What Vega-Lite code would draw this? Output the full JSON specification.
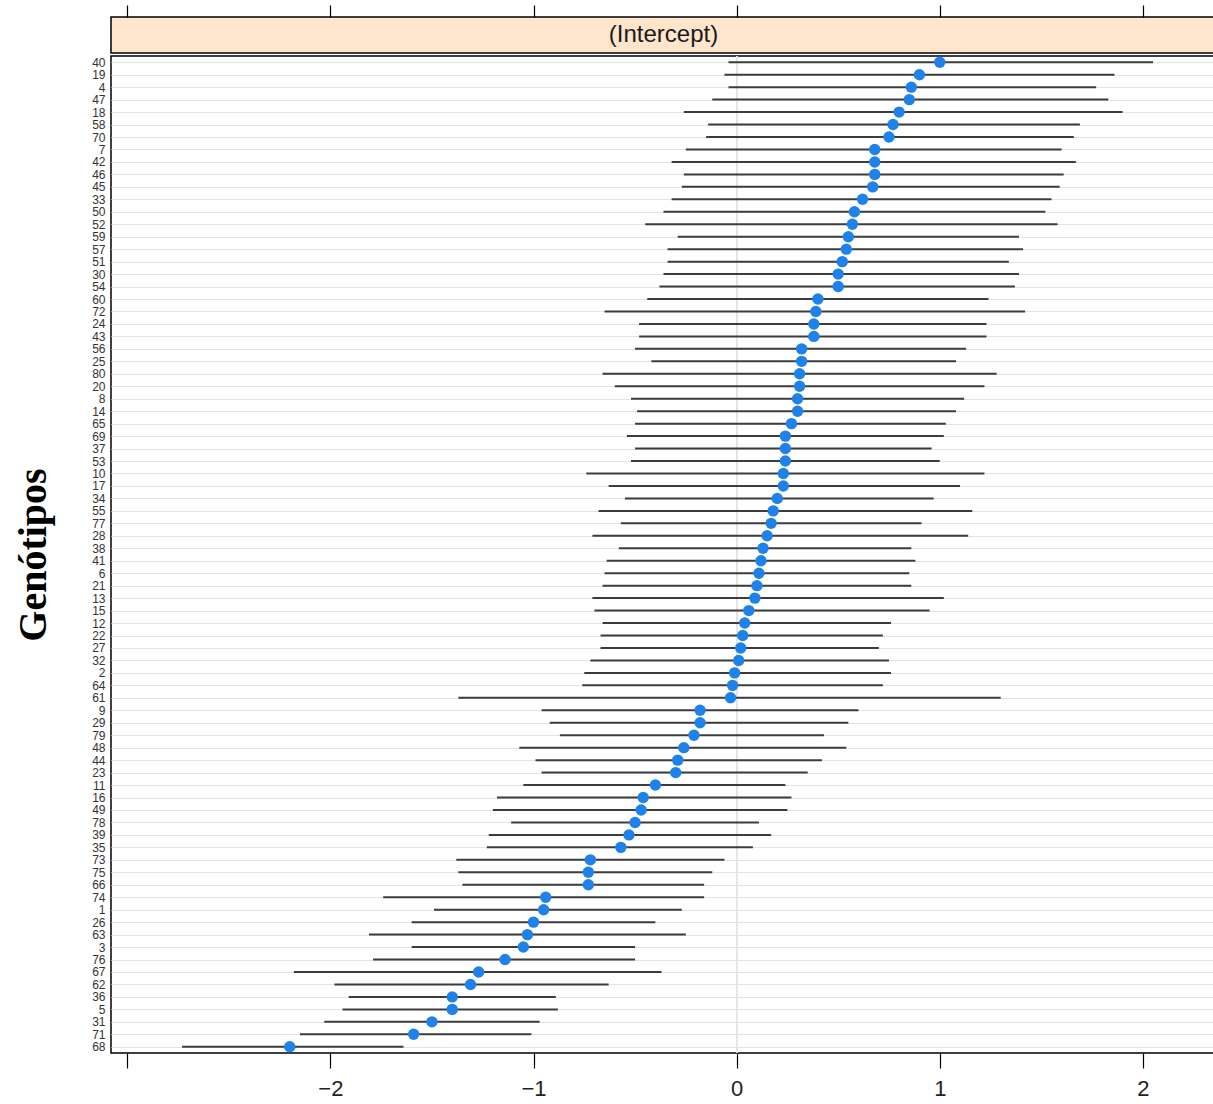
{
  "$schema": "https://vega.github.io/schema/vega-lite/v6.json",
  "background": "white",
  "padding": {"top": 3, "left": 12, "right": 0, "bottom": 2},
  "spacing": 0,
  "config": {"font": "Liberation Sans", "concat": {"spacing": 0}},
  "datasets": {
    "ranef": [
      {"g": "40", "est": 1.00, "lo": -0.04, "hi": 2.05},
      {"g": "19", "est": 0.90, "lo": -0.06, "hi": 1.86},
      {"g": "4", "est": 0.86, "lo": -0.04, "hi": 1.77},
      {"g": "47", "est": 0.85, "lo": -0.12, "hi": 1.83},
      {"g": "18", "est": 0.80, "lo": -0.26, "hi": 1.90},
      {"g": "58", "est": 0.77, "lo": -0.14, "hi": 1.69},
      {"g": "70", "est": 0.75, "lo": -0.15, "hi": 1.66},
      {"g": "7", "est": 0.68, "lo": -0.25, "hi": 1.60},
      {"g": "42", "est": 0.68, "lo": -0.32, "hi": 1.67},
      {"g": "46", "est": 0.68, "lo": -0.26, "hi": 1.61},
      {"g": "45", "est": 0.67, "lo": -0.27, "hi": 1.59},
      {"g": "33", "est": 0.62, "lo": -0.32, "hi": 1.55},
      {"g": "50", "est": 0.58, "lo": -0.36, "hi": 1.52},
      {"g": "52", "est": 0.57, "lo": -0.45, "hi": 1.58},
      {"g": "59", "est": 0.55, "lo": -0.29, "hi": 1.39},
      {"g": "57", "est": 0.54, "lo": -0.34, "hi": 1.41},
      {"g": "51", "est": 0.52, "lo": -0.34, "hi": 1.34},
      {"g": "30", "est": 0.50, "lo": -0.36, "hi": 1.39},
      {"g": "54", "est": 0.50, "lo": -0.38, "hi": 1.37},
      {"g": "60", "est": 0.40, "lo": -0.44, "hi": 1.24},
      {"g": "72", "est": 0.39, "lo": -0.65, "hi": 1.42},
      {"g": "24", "est": 0.38, "lo": -0.48, "hi": 1.23},
      {"g": "43", "est": 0.38, "lo": -0.48, "hi": 1.23},
      {"g": "56", "est": 0.32, "lo": -0.50, "hi": 1.13},
      {"g": "25", "est": 0.32, "lo": -0.42, "hi": 1.08},
      {"g": "80", "est": 0.31, "lo": -0.66, "hi": 1.28},
      {"g": "20", "est": 0.31, "lo": -0.60, "hi": 1.22},
      {"g": "8", "est": 0.30, "lo": -0.52, "hi": 1.12},
      {"g": "14", "est": 0.30, "lo": -0.49, "hi": 1.08},
      {"g": "65", "est": 0.27, "lo": -0.50, "hi": 1.03},
      {"g": "69", "est": 0.24, "lo": -0.54, "hi": 1.02},
      {"g": "37", "est": 0.24, "lo": -0.50, "hi": 0.96},
      {"g": "53", "est": 0.24, "lo": -0.52, "hi": 1.00},
      {"g": "10", "est": 0.23, "lo": -0.74, "hi": 1.22},
      {"g": "17", "est": 0.23, "lo": -0.63, "hi": 1.10},
      {"g": "34", "est": 0.20, "lo": -0.55, "hi": 0.97},
      {"g": "55", "est": 0.18, "lo": -0.68, "hi": 1.16},
      {"g": "77", "est": 0.17, "lo": -0.57, "hi": 0.91},
      {"g": "28", "est": 0.15, "lo": -0.71, "hi": 1.14},
      {"g": "38", "est": 0.13, "lo": -0.58, "hi": 0.86},
      {"g": "41", "est": 0.12, "lo": -0.64, "hi": 0.88},
      {"g": "6", "est": 0.11, "lo": -0.65, "hi": 0.85},
      {"g": "21", "est": 0.10, "lo": -0.66, "hi": 0.86},
      {"g": "13", "est": 0.09, "lo": -0.71, "hi": 1.02},
      {"g": "15", "est": 0.06, "lo": -0.70, "hi": 0.95},
      {"g": "12", "est": 0.04, "lo": -0.66, "hi": 0.76},
      {"g": "22", "est": 0.03, "lo": -0.67, "hi": 0.72},
      {"g": "27", "est": 0.02, "lo": -0.67, "hi": 0.70},
      {"g": "32", "est": 0.01, "lo": -0.72, "hi": 0.75},
      {"g": "2", "est": -0.01, "lo": -0.75, "hi": 0.76},
      {"g": "64", "est": -0.02, "lo": -0.76, "hi": 0.72},
      {"g": "61", "est": -0.03, "lo": -1.37, "hi": 1.30},
      {"g": "9", "est": -0.18, "lo": -0.96, "hi": 0.60},
      {"g": "29", "est": -0.18, "lo": -0.92, "hi": 0.55},
      {"g": "79", "est": -0.21, "lo": -0.87, "hi": 0.43},
      {"g": "48", "est": -0.26, "lo": -1.07, "hi": 0.54},
      {"g": "44", "est": -0.29, "lo": -0.99, "hi": 0.42},
      {"g": "23", "est": -0.30, "lo": -0.96, "hi": 0.35},
      {"g": "11", "est": -0.40, "lo": -1.05, "hi": 0.24},
      {"g": "16", "est": -0.46, "lo": -1.18, "hi": 0.27},
      {"g": "49", "est": -0.47, "lo": -1.20, "hi": 0.25},
      {"g": "78", "est": -0.50, "lo": -1.11, "hi": 0.11},
      {"g": "39", "est": -0.53, "lo": -1.22, "hi": 0.17},
      {"g": "35", "est": -0.57, "lo": -1.23, "hi": 0.08},
      {"g": "73", "est": -0.72, "lo": -1.38, "hi": -0.06},
      {"g": "75", "est": -0.73, "lo": -1.37, "hi": -0.12},
      {"g": "66", "est": -0.73, "lo": -1.35, "hi": -0.16},
      {"g": "74", "est": -0.94, "lo": -1.74, "hi": -0.16},
      {"g": "1", "est": -0.95, "lo": -1.49, "hi": -0.27},
      {"g": "26", "est": -1.00, "lo": -1.60, "hi": -0.40},
      {"g": "63", "est": -1.03, "lo": -1.81, "hi": -0.25},
      {"g": "3", "est": -1.05, "lo": -1.60, "hi": -0.50},
      {"g": "76", "est": -1.14, "lo": -1.79, "hi": -0.50},
      {"g": "67", "est": -1.27, "lo": -2.18, "hi": -0.37},
      {"g": "62", "est": -1.31, "lo": -1.98, "hi": -0.63},
      {"g": "36", "est": -1.40, "lo": -1.91, "hi": -0.89},
      {"g": "5", "est": -1.40, "lo": -1.94, "hi": -0.88},
      {"g": "31", "est": -1.50, "lo": -2.03, "hi": -0.97},
      {"g": "71", "est": -1.59, "lo": -2.15, "hi": -1.01},
      {"g": "68", "est": -2.20, "lo": -2.73, "hi": -1.64}
    ]
  },
  "vconcat": [
    {
      "width": 1105,
      "height": 36,
      "data": {"values": [{"strip": "(Intercept)", "zero": 0}]},
      "view": {"fill": "#ffe5cc", "stroke": "#000000", "strokeWidth": 1.5},
      "layer": [
        {
          "mark": {"type": "rule", "opacity": 0},
          "encoding": {
            "x": {
              "field": "zero",
              "type": "quantitative",
              "scale": {"domain": [-3.08, 2.36], "nice": false, "zero": false},
              "axis": {
                "orient": "top",
                "title": null,
                "values": [-3, -2, -1, 0, 1, 2],
                "labels": false,
                "domain": false,
                "grid": false,
                "ticks": true,
                "tickSize": 12,
                "tickColor": "#000000",
                "tickWidth": 1.2
              }
            }
          }
        },
        {
          "mark": {"type": "text", "fontSize": 24, "color": "#1a1a1a", "font": "Liberation Sans"},
          "encoding": {"text": {"field": "strip", "type": "nominal"}}
        }
      ]
    },
    {
      "width": 1105,
      "height": 997,
      "data": {"name": "ranef"},
      "view": {"stroke": "#000000", "strokeWidth": 1.5},
      "encoding": {
        "y": {
          "field": "g",
          "type": "nominal",
          "sort": null,
          "scale": {"type": "point", "padding": 0.5},
          "axis": {
            "title": "Genótipos",
            "titleFont": "Liberation Serif",
            "titleFontSize": 40,
            "titleFontWeight": "bold",
            "titleColor": "#000000",
            "titlePadding": 38,
            "labelFontSize": 12,
            "labelColor": "#333333",
            "labelPadding": 6,
            "labelOverlap": false,
            "ticks": false,
            "domain": false,
            "grid": true,
            "gridColor": "#e3e3e3",
            "gridWidth": 1
          }
        }
      },
      "layer": [
        {
          "mark": {"type": "rule", "color": "#e3e3e3", "strokeWidth": 1},
          "encoding": {"x": {"datum": 0, "type": "quantitative"}, "y": null}
        },
        {
          "mark": {"type": "rule", "color": "#3c3c3c", "strokeWidth": 2},
          "encoding": {
            "x": {
              "field": "lo",
              "type": "quantitative",
              "scale": {"domain": [-3.08, 2.36], "nice": false, "zero": false},
              "axis": {
                "orient": "bottom",
                "title": null,
                "values": [-3, -2, -1, 0, 1, 2],
                "format": "d",
                "labelExpr": "datum.value == -3 ? '' : datum.label",
                "labelFontSize": 22,
                "labelColor": "#222222",
                "labelPadding": 10,
                "domain": false,
                "grid": false,
                "tickSize": 15,
                "tickColor": "#000000",
                "tickWidth": 1.2
              }
            },
            "x2": {"field": "hi"}
          }
        },
        {
          "mark": {"type": "point", "filled": true, "opacity": 1, "color": "#1f82ea", "size": 130},
          "encoding": {"x": {"field": "est", "type": "quantitative"}}
        }
      ]
    }
  ]
}
